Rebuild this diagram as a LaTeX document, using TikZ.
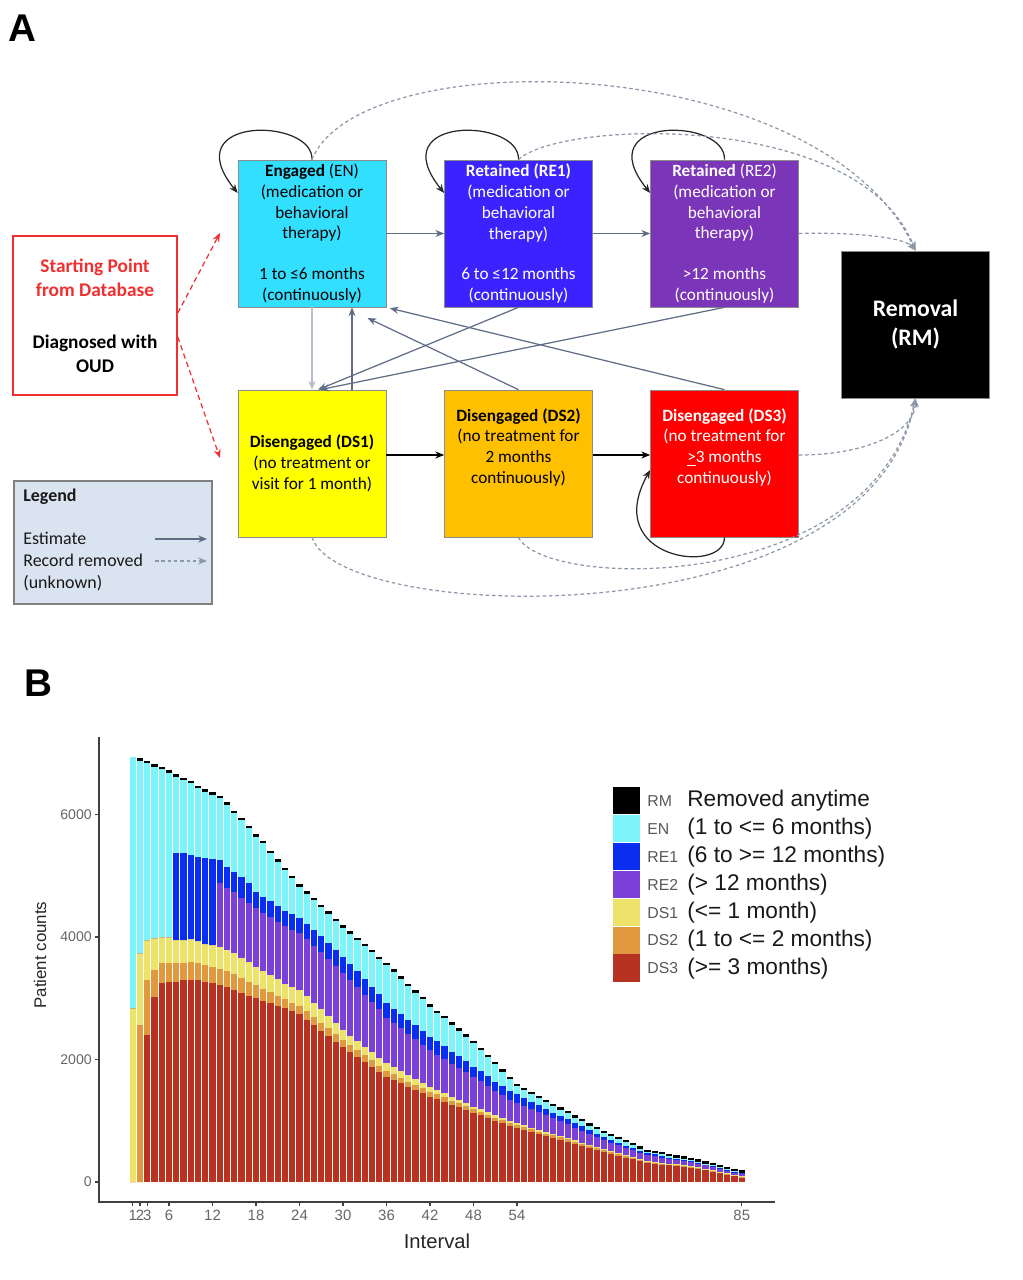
\documentclass[tikz,border=0pt]{standalone}
\usepackage{fontspec}
\setmainfont{Carlito}
\newfontfamily\arialfont{Liberation Sans}
\usetikzlibrary{arrows.meta,calc}

% state colours
\definecolor{encol}{HTML}{33DFFF}
\definecolor{reonecol}{HTML}{3A23FF}
\definecolor{retwocol}{HTML}{7B35B9}
\definecolor{dsonecol}{HTML}{FFFF00}
\definecolor{dstwocol}{HTML}{FFC000}
\definecolor{dsthreecol}{HTML}{FF0000}
\definecolor{estcol}{HTML}{5E6C84}
\definecolor{remcol}{HTML}{8C97A8}
\definecolor{legfill}{HTML}{DAE3F0}
\definecolor{startred}{HTML}{F03030}
% bar colours
\definecolor{barRM}{HTML}{000000}
\definecolor{barEN}{HTML}{7CF4FA}
\definecolor{barREa}{HTML}{0A2EF0}
\definecolor{barREb}{HTML}{7B40D8}
\definecolor{barDSa}{HTML}{EEE36A}
\definecolor{barDSb}{HTML}{E0993E}
\definecolor{barDSc}{HTML}{B83222}

\newcommand{\cnt}[1]{1182-0.6125*(#1)}

\tikzset{
  panel/.style={font=\arialfont\bfseries\fontsize{22}{26}\selectfont, inner sep=0pt},
  state/.style={rectangle, draw=black!45, line width=0.4pt, minimum width=2.96cm, minimum height=2.94cm, inner sep=1pt, align=center, font=\fontsize{9.8}{11.9}\selectfont},
  startbox/.style={rectangle, draw=startred, line width=0.9pt, fill=white, minimum width=3.28cm, minimum height=3.18cm, align=center, font=\bfseries\fontsize{11}{13.6}\selectfont},
  legbox/.style={rectangle, draw=black!50, line width=0.6pt, fill=legfill, minimum width=3.96cm, minimum height=2.46cm},
  legtext/.style={anchor=west, inner sep=0pt, text=black!90, font=\fontsize{10.2}{12}\selectfont},
  est/.style={->, draw=estcol, line width=0.7pt},
  flow/.style={->, draw=black, line width=0.8pt},
  rem/.style={->, draw=remcol, line width=0.7pt, dash pattern=on 2pt off 1.6pt},
  selfloop/.style={->, draw=black!85, line width=0.7pt},
  startarr/.style={->, draw=startred, line width=0.7pt, dash pattern=on 3pt off 2pt},
  axisline/.style={draw=black!75, line width=0.8pt},
  ticklab/.style={font=\arialfont\fontsize{8.5}{10}\selectfont, text=black!60, inner sep=0pt},
  axislab/.style={font=\arialfont\fontsize{11.5}{13}\selectfont, text=black!85, inner sep=0pt},
}

\begin{document}
\begin{tikzpicture}[x=0.02cm,y=-0.02cm,>={Stealth[length=5pt,width=4pt]}]
  \useasboundingbox (0,0) rectangle (1023,1280);

  % ---- panel A ----
  \node[panel] (lblA) at (22,28) {A};

  \node[startbox] (start) at (95,315.5) {\textcolor{startred}{Starting Point}\\\textcolor{startred}{from Database}\\[15.9pt]Diagnosed with\\OUD};

  \node[state,fill=encol] (EN) at (312,233.5) {\textbf{Engaged} (EN)\\(medication or\\behavioral\\therapy)\\[11.3pt]1 to ≤6 months\\(continuously)};
  \node[state,fill=reonecol,text=white] (RE1) at (518.5,233.5) {\textbf{Retained (RE1)}\\(medication or\\behavioral\\therapy)\\[11.3pt]6 to ≤12 months\\(continuously)};
  \node[state,fill=retwocol,text=white] (RE2) at (724.5,233.5) {\textbf{Retained} (RE2)\\(medication or\\behavioral\\therapy)\\[11.3pt]>12 months\\(continuously)};
  \node[state,fill=dsonecol] (DS1) at (312,463.5) {\textbf{Disengaged (DS1)}\\(no treatment or\\visit for 1 month)};
  \node[state,fill=dstwocol] (DS2) at (518.5,463.5) {\textbf{Disengaged (DS2)}\\(no treatment for\\2 months\\continuously)\\[8pt]\mbox{}};
  \node[state,fill=dsthreecol,text=white] (DS3) at (724.5,463.5) {\textbf{Disengaged (DS3)}\\(no treatment for\\\underline{>}3 months\\continuously)\\[8pt]\mbox{}};
  \node[state,fill=black,text=white,font=\bfseries\fontsize{13.5}{17}\selectfont] (RM) at (915.5,324.5) {Removal\\(RM)};

  % self loops
  \foreach \n in {EN,RE1,RE2}
    \draw[selfloop] (\n.north) .. controls ($(\n.north)+(2,-42)$) and ($(\n.west |- 0,193)+(-63,-78)$) .. (\n.west |- 0,193);
  \draw[selfloop] (DS3.south) .. controls (724.5,575) and (600,560) .. (DS3.west |- 0,470);

  % estimated transitions
  \draw[est] (EN.east) -- (RE1.west);
  \draw[est] (RE1.east) -- (RE2.west);
  \draw[flow] (DS1.east |- 0,455) -- (DS2.west |- 0,455);
  \draw[flow] (DS2.east |- 0,455) -- (DS3.west |- 0,455);
  \draw[est,draw=estcol!45] (EN.south) -- (DS1.north);
  \draw[est] (DS1.north -| 352,0) -- (EN.south -| 352,0);
  \draw[est] (RE1.south) -- (DS1.north -| 318,0);
  \draw[est] (RE2.south) -- (DS1.north -| 320,0);
  \draw[est,shorten >=0.5cm] (DS2.north) -- (EN.south -| 345,0);
  \draw[est,shorten >=2pt] (DS3.north) -- (EN.south east);

  % records removed
  \draw[rem] (EN.north) .. controls (360,40) and (820,50) .. (RM.north);
  \draw[rem] (RE1.north) .. controls (560,120) and (860,110) .. (RM.north);
  \draw[rem] (RE2.east) .. controls (860,232) and (905,238) .. (RM.north);
  \draw[rem] (DS3.east |- 0,455) .. controls (870,455) and (915,430) .. (RM.south);
  \draw[rem] (DS2.south) .. controls (545,590) and (870,595) .. (RM.south);
  \draw[rem] (DS1.south) .. controls (340,625) and (870,640) .. (RM.south);

  % starting point
  \coordinate (ENin) at (220,233);
  \coordinate (DSin) at (220,458);
  \draw[startarr] (start.east |- 0,313) -- (ENin);
  \draw[startarr] (start.east |- 0,337) -- (DSin);

  % legend
  \node[legbox] (legend) at (113,542.5) {};
  \node[legtext,font=\bfseries\fontsize{10.2}{12}\selectfont] (legtitle) at (23,497) {Legend};
  \node[legtext] (legest) at (23,538) {Estimate};
  \node[legtext] (legrem) at (23,560) {Record removed};
  \node[legtext] (legunk) at (23,583) {(unknown)};
  \draw[est] (155,539) -- (207,539);
  \draw[rem] (155,561) -- (207,561);

  % ---- panel B ----
  \node[panel] (lblB) at (38,683) {B};

  \foreach \i/\rd/\og/\yl/\pu/\bl/\cy in {
    1/0/0/284/284/284/694, 2/0/256/374/374/374/688, 3/240/330/395/395/395/684,
    4/302/346/398/398/398/678, 5/325/358/400/400/400/674, 6/327/358/400/400/400/668,
    7/327/357/395/395/537/662, 8/329/357/395/395/537/656, 9/330/360/396/396/534/651,
    10/330/358/393/393/531/643, 11/327/355/389/389/529/637, 12/325/351/387/387/528/632,
    13/322/348/384/488/526/627, 14/318/345/379/480/514/616, 15/314/340/374/474/506/602,
    16/309/333/366/464/498/591, 17/304/327/359/456/488/578, 18/300/322/351/447/474/564,
    19/296/315/344/440/466/553, 20/292/310/338/433/459/537, 21/288/304/331/425/451/523,
    22/284/299/324/418/443/509, 23/279/293/319/412/437/496, 24/274/288/314/406/431/482,
    25/265/279/303/396/421/471, 26/256/269/292/385/411/460, 27/247/260/282/375/401/449,
    28/238/251/271/364/390/438, 29/229/241/260/353/379/426, 30/220/232/248/341/367/415,
    31/212/224/239/330/356/405, 32/204/215/230/319/345/395, 33/196/207/221/306/331/385,
    34/188/199/212/294/319/375, 35/180/190/203/283/307/364, 36/172/182/194/268/292/354,
    37/166/176/187/259/283/343, 38/161/170/181/251/274/332, 39/155/164/174/242/265/320,
    40/150/159/168/234/257/309, 41/145/153/162/224/246/298, 42/139/147/155/215/237/286,
    43/135/143/150/208/230/276, 44/130/138/145/201/222/267, 45/126/133/139/193/213/257,
    46/122/129/134/186/205/247, 47/117/124/129/180/197/237, 48/113/119/123/172/188/227,
    49/109/115/119/165/181/215, 50/104/110/114/157/173/204, 51/100/105/109/149/164/192,
    52/96/101/105/142/157/180, 53/92/97/100/134/149/168, 54/88/93/96/129/143/156,
    55/85/90/93/124/137/150, 56/82/86/89/119/131/143, 57/78/82/85/114/125/137,
    58/75/79/82/109/119/130, 59/72/76/78/104/113/124, 60/69/73/75/100/108/118,
    61/66/70/72/95/103/112, 62/62/66/68/89/96/105, 63/59/62/64/84/91/99,
    64/56/59/61/79/85/92, 65/52/55/57/73/78/86, 66/49/52/54/69/73/80,
    67/46/49/50/64/68/75, 68/43/46/47/60/64/70, 69/40/42/44/56/59/65,
    70/37/39/41/52/55/60, 71/34/36/38/48/51/54, 72/31/33/34/44/47/49,
    73/30/32/33/42/45/47, 74/28/30/31/40/43/45, 75/27/29/30/38/40/42,
    76/26/28/29/36/38/40, 77/24/26/27/34/36/38, 78/23/25/26/32/34/36,
    79/21/23/24/29/31/33, 80/19/21/22/27/29/30, 81/16/18/19/24/26/27,
    82/14/16/17/21/23/24, 83/12/13/14/18/20/21, 84/10/11/12/15/17/18,
    85/8/9/10/13/15/15}{
    \pgfmathsetmacro\xl{129.7+(\i-1)*7.25}
    \pgfmathsetmacro\xr{\xl+6.1}
    \fill[barDSc] (\xl,1182) rectangle (\xr,{\cnt{\rd}});
    \fill[barDSb] (\xl,{\cnt{\rd}}) rectangle (\xr,{\cnt{\og}});
    \fill[barDSa] (\xl,{\cnt{\og}}) rectangle (\xr,{\cnt{\yl}});
    \fill[barREb] (\xl,{\cnt{\yl}}) rectangle (\xr,{\cnt{\pu}});
    \fill[barREa] (\xl,{\cnt{\pu}}) rectangle (\xr,{\cnt{\bl}});
    \fill[barEN] (\xl,{\cnt{\bl}}) rectangle (\xr,{\cnt{\cy}});
    \ifnum\i>1 \fill[barRM] (\xl,{\cnt{\cy}}) rectangle (\xr,{\cnt{\cy+4}}); \fi
  }

  % axes
  \draw[axisline] (99,737) -- (99,1202) -- (775,1202);
  \foreach \v in {0,2000,4000,6000}{
    \draw[axisline] (95,{1182-0.06125*\v}) -- (99,{1182-0.06125*\v});
    \node[ticklab,anchor=east,font=\arialfont\fontsize{8}{9}\selectfont] (yt\v) at (92,{1182-0.06125*\v}) {\v};
  }
  \foreach \t in {1,2,3,6,12,18,24,30,36,42,48,54,85}{
    \pgfmathsetmacro\xt{132.75+(\t-1)*7.25}
    \draw[axisline] (\xt,1202) -- (\xt,1206);
    \node[ticklab,anchor=north] (xt\t) at (\xt,1210) {\t};
  }
  \node[axislab] (xlab) at (437,1241) {Interval};
  \node[axislab,rotate=90,font=\arialfont\fontsize{9.6}{11}\selectfont] (ylab) at (40,955) {Patient counts};

  % chart legend
  \foreach \k/\c/\tag/\txt in {0/barRM/RM/{Removed anytime}, 1/barEN/EN/{(1 to <= 6 months)},
      2/barREa/RE1/{(6 to >= 12 months)}, 3/barREb/RE2/{(> 12 months)}, 4/barDSa/DS1/{(<= 1 month)},
      5/barDSb/DS2/{(1 to <= 2 months)}, 6/barDSc/DS3/{(>= 3 months)}}{
    \fill[\c] (613,{787+\k*27.9}) rectangle (640,{787+(\k+1)*27.9-0.8});
    \node[anchor=west,inner sep=0pt,text=black!65,font=\arialfont\fontsize{9}{10}\selectfont] (legtag\k) at (647,{801+\k*27.9}) {\tag};
    \node[anchor=west,inner sep=0pt,text=black!90,font=\arialfont\fontsize{12.9}{14}\selectfont] (legtxt\k) at (687,{801+\k*27.9}) {\txt};
  }
\end{tikzpicture}
\end{document}
